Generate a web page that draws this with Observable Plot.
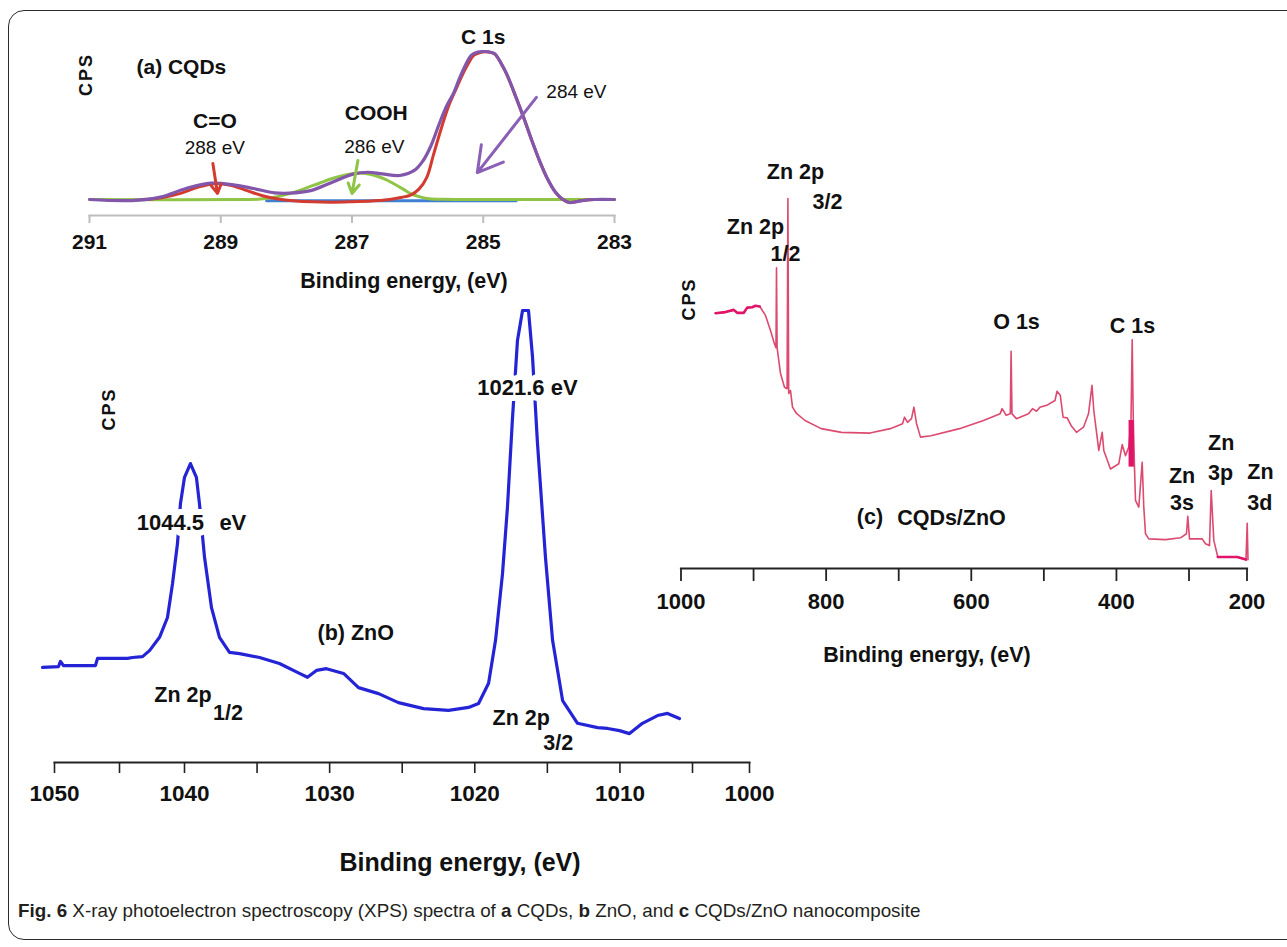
<!DOCTYPE html>
<html><head><meta charset="utf-8">
<script src="https://cdn.jsdelivr.net/npm/d3@7"></script>
<script src="https://cdn.jsdelivr.net/npm/@observablehq/plot@0.6"></script>
<style>
html,body{margin:0;padding:0;background:#fff;overflow:hidden;}
#page{position:relative;width:1287px;height:947px;overflow:hidden;background:#fff;}
#frame{position:absolute;left:8px;top:10px;width:1330px;height:930px;border:1.6px solid #2b2b2b;border-radius:16px;box-sizing:border-box;}
#caption{position:absolute;left:18px;top:900px;font-family:"Liberation Sans","Arial",sans-serif;font-size:19px;line-height:22px;color:#231f20;white-space:nowrap;transform-origin:0 50%;}
#caption b{font-weight:bold;}
</style></head><body>
<div id="page"><div id="frame"></div>
<div id="caption"><b>Fig. 6</b> X-ray photoelectron spectroscopy (XPS) spectra of <b>a</b> CQDs, <b>b</b> ZnO, and <b>c</b> CQDs/ZnO nanocomposite</div>
</div>
<script>
// ---------- Panel (a): CQDs C 1s ----------
const aEnvelopeEV  = [291.0, 290.36, 289.92, 289.53, 289.15, 288.83, 288.5, 288.18, 287.95, 287.63, 287.3, 286.97, 286.76, 286.54, 286.27, 286.04, 285.92, 285.8, 285.68, 285.56, 285.45, 285.37, 285.29, 285.18, 285.08, 285.0, 284.92, 284.83, 284.69, 284.6, 284.5, 284.38, 284.26, 284.14, 284.02, 283.9, 283.8, 283.69, 283.49, 283.31, 283.0];
const aEnvelopeCPS = [0, -0.7, 1.6, 7.4, 11.0, 10.1, 7.4, 4.5, 4.3, 6.0, 11.7, 17.3, 18.4, 17.3, 16.2, 20, 26, 36, 50, 63, 72, 81, 89, 97.5, 99.7, 100, 99.8, 98.6, 89, 80.4, 69, 55, 40, 26, 14, 5, 0.5, -2.0, -0.7, 0, 0];
const aRedEV  = [290.2, 289.9, 289.6, 289.35, 289.1, 288.85, 288.6, 288.35, 288.1, 287.9, 287.6, 287.3, 287.0, 286.7, 286.5, 286.3, 286.1, 285.98, 285.86, 285.76, 285.64, 285.52, 285.41, 285.33, 285.25, 285.14, 285.03, 284.92, 284.83, 284.69, 284.6, 284.5, 284.38, 284.26, 284.14, 284.02, 283.9, 283.8, 283.69, 283.49, 283.31];
const aRedCPS = [0, 1.2, 4.3, 8.3, 10.7, 9.6, 6.0, 2.4, 0.2, -0.8, -1.6, -1.8, -1.5, -1.0, -0.4, 1.0, 3.2, 7, 15, 30, 48, 64, 75, 83, 90, 97.5, 99.5, 99.6, 98.4, 88.8, 80.2, 68.8, 54.8, 39.8, 25.8, 13.8, 4.8, 0.4, -2.0, -0.7, 0];
const aGreenEV  = [291, 288.6, 288.39, 288.18, 287.95, 287.73, 287.5, 287.3, 287.1, 286.92, 286.75, 286.65, 286.5, 286.37, 286.22, 286.1, 285.95, 285.82, 285.6, 285.44, 283.0];
const aGreenCPS = [0, 0, 0.3, 1.6, 4.0, 7.2, 11, 14.2, 16.6, 17.8, 17.3, 16.2, 13.8, 10.8, 7, 3.8, 1.6, 0.5, 0.1, 0, 0];
const aBlueEV  = [288.3, 284.5];
const aBlueCPS = [-0.9, -0.9];
const aTicks = [291, 289, 287, 285, 283];
const aBoldLabels = [
  {text: "C 1s", ev: 285.0, cps: 109.5},
  {text: "(a) CQDs", ev: 289.6, cps: 89.2},
  {text: "C=O", ev: 289.09, cps: 52.7},
  {text: "COOH", ev: 286.63, cps: 58.1}
];
const aEnergyLabels = [
  {text: "288 eV", ev: 289.09, cps: 35.1},
  {text: "286 eV", ev: 286.66, cps: 35.8},
  {text: "284 eV", ev: 283.58, cps: 73.0}
];
const aArrowRed    = [{ev1: 289.12, cps1: 24.3, ev2: 289.05, cps2: 4.1}];
const aArrowGreen  = [{ev1: 286.91, cps1: 26.4, ev2: 287.0, cps2: 4.0}];
const aArrowPurple = [{ev1: 284.19, cps1: 69.0, ev2: 285.09, cps2: 18.2}];

// ---------- Panel (b): ZnO Zn 2p ----------
const bEV  = [1050.92, 1049.69, 1049.54, 1049.31, 1046.85, 1046.69, 1044.38, 1044.0, 1043.23, 1042.69, 1041.92, 1041.31, 1040.92, 1040.54, 1040.31, 1040.0, 1039.59, 1039.18, 1038.97, 1038.62, 1038.14, 1037.59, 1036.90, 1036.21, 1034.83, 1033.46, 1032.08, 1031.53, 1030.91, 1030.22, 1029.04, 1028.01, 1026.63, 1025.26, 1023.53, 1021.81, 1020.43, 1019.74, 1019.05, 1018.57, 1018.09, 1017.75, 1017.40, 1017.06, 1016.71, 1016.30, 1016.02, 1015.68, 1015.13, 1014.64, 1013.95, 1012.92, 1011.54, 1010.85, 1010.03, 1009.34, 1008.45, 1007.41, 1006.72, 1005.90];
const bCPS = [17.0, 17.2, 18.4, 17.4, 17.4, 19.1, 19.1, 19.3, 19.5, 20.9, 24.0, 28.6, 36.5, 45.8, 55.1, 61.2, 64.4, 61.2, 55.1, 42.6, 30.9, 24.0, 20.5, 20.2, 19.3, 17.9, 15.6, 14.7, 16.3, 16.7, 15.6, 12.3, 10.9, 8.8, 7.4, 7.0, 7.7, 8.6, 13.3, 23.3, 38.8, 54.2, 75.1, 93.0, 100, 100, 89.1, 69.1, 42.6, 23.3, 9.3, 4.0, 3.0, 2.8, 2.3, 1.6, 4.0, 5.8, 6.3, 5.1];
const bTicks = [1050, 1045, 1040, 1035, 1030, 1025, 1020, 1015, 1010, 1005, 1000];
const bPeakLabels = [
  {text: "1044.5", ev: 1041.08, cps: 50.5},
  {text: "eV", ev: 1036.67, cps: 50.5},
  {text: "1021.6 eV", ev: 1016.37, cps: 81.9}
];
const bBoldLabels = [
  {text: "(b) ZnO", ev: 1028.2, cps: 24.9},
  {text: "Zn 2p", ev: 1040.12, cps: 10.5},
  {text: "1/2", ev: 1037.0, cps: 6.3},
  {text: "Zn 2p", ev: 1016.80, cps: 5.3},
  {text: "3/2", ev: 1014.25, cps: -0.5}
];

// ---------- Panel (c): CQDs/ZnO survey ----------
const cEV  = [952.46, 938.68, 927.24, 922.56, 913.47, 908.78, 901.89, 897.34, 891.42, 883.56, 876.67, 871.16, 869.09, 868.40, 867.58, 862.89, 857.38, 853.8, 852.70, 851.59, 849.11, 846.36, 840.85, 829.13, 806.81, 778.83, 739.56, 711.59, 694.78, 692.02, 687.89, 682.38, 679.07, 675.49, 669.98, 655.51, 616.24, 583.17, 560.30, 557.54, 551.89, 546.24, 545.14, 543.9, 537.83, 521.16, 515.65, 510.14, 505.45, 495.95, 484.65, 481.89, 477.35, 473.49, 467.84, 462.33, 455.02, 445.38, 438.49, 433.67, 431.19, 424.30, 419.61, 417.41, 408.18, 396.74, 392.06, 387.51, 382.96, 379.93, 378.28, 376.76, 375.11, 373.73, 369.18, 364.50, 362.29, 359.95, 355.40, 332.4, 311.71, 303.5, 301.65, 299.14, 277.24, 271.55, 264.66, 261.72, 257.24, 250.34, 216.9, 201.72, 199.66, 198.28];
const cCPS = [69.0, 69.3, 69.9, 69.1, 69.1, 70.5, 70.6, 71.0, 70.8, 68.4, 64.3, 60.7, 59.7, 81.3, 59.7, 52.7, 49.0, 48.6, 100, 47.3, 48.1, 43.6, 41.9, 40.0, 37.8, 36.8, 36.6, 37.8, 39.1, 40.9, 39.5, 40.5, 43.6, 39.2, 35.5, 35.9, 37.8, 40.0, 41.8, 43.2, 41.4, 41.8, 58.7, 41.8, 40.5, 41.8, 43.2, 42.5, 43.6, 44.1, 45.4, 47.9, 46.8, 40.9, 40.7, 38.6, 36.8, 38.2, 41.8, 49.5, 42.7, 31.9, 36.8, 31.9, 26.9, 28.3, 33.5, 30.5, 32.8, 40.0, 61.8, 40.0, 27.4, 18.4, 16.6, 28.7, 16.6, 9.4, 8.0, 7.8, 8.3, 9.4, 14.1, 8.0, 8.0, 6.7, 6.2, 21.1, 7.6, 3.1, 3.1, 2.4, 12.2, 2.4];
const cBand = [{ev1: 382.6, ev2: 375.2, cps1: 27.4, cps2: 40.0}];
const cTicks = [1000, 900, 800, 700, 600, 500, 400, 300, 200];
const cBoldLabels = [
  {text: "Zn 2p", ev: 897.34, cps: 92.2},
  {text: "1/2", ev: 856.0, cps: 84.9},
  {text: "Zn 2p", ev: 842.2, cps: 107.0},
  {text: "3/2", ev: 798.1, cps: 98.9},
  {text: "O 1s", ev: 537.7, cps: 66.5},
  {text: "C 1s", ev: 377.8, cps: 65.4},
  {text: "(c)", ev: 739.6, cps: 13.8},
  {text: "CQDs/ZnO", ev: 627.3, cps: 13.5},
  {text: "Zn", ev: 309.6, cps: 24.9},
  {text: "3s", ev: 309.6, cps: 17.6},
  {text: "Zn", ev: 244.5, cps: 33.9},
  {text: "3p", ev: 245.7, cps: 25.8},
  {text: "Zn", ev: 176.7, cps: 26.0},
  {text: "3d", ev: 177.9, cps: 17.6}
];

const axisTitle = "Binding energy, (eV)";
const yTitle = "CPS";

// ---------- build ----------
const zip = (xs, ys) => xs.map((x, i) => ({ev: x, cps: ys[i]}));
const FONT = '"Liberation Sans", Arial, sans-serif';
const W = 1287, H = 947;
const page = document.getElementById("page");
function place(svg) {
  svg.style.position = "absolute";
  svg.style.left = "0px";
  svg.style.top = "0px";
  page.appendChild(svg);
  svg.querySelectorAll("text").forEach(t => { if (t.textContent === yTitle) t.style.letterSpacing = "2px"; });
}
const baseStyle = {background: "transparent", fontFamily: FONT, overflow: "visible"};
const ink = "#111";

// Panel (a)
place(Plot.plot({
  width: W, height: 300,
  marginLeft: 89, marginRight: W - 614, marginTop: 30, marginBottom: 85,
  style: baseStyle,
  x: {domain: [291, 283]},
  y: {domain: [0, 100], range: [199, 51], axis: null},
  marks: [
    Plot.frame({anchor: "bottom", stroke: "#bdbdbd", strokeWidth: 2}),
    Plot.axisX({ticks: aTicks, tickSize: 8, stroke: "#bdbdbd", strokeWidth: 2, fill: ink, fontSize: 21, fontWeight: "bold", tickPadding: 11, label: null}),
    Plot.line(zip(aBlueEV, aBlueCPS), {x: "ev", y: "cps", stroke: "#3f7fd1", strokeWidth: 3}),
    Plot.line(zip(aGreenEV, aGreenCPS), {x: "ev", y: "cps", stroke: "#8fc446", strokeWidth: 3, curve: "catmull-rom"}),
    Plot.line(zip(aRedEV, aRedCPS), {x: "ev", y: "cps", stroke: "#d33b30", strokeWidth: 3, curve: "catmull-rom"}),
    Plot.line(zip(aEnvelopeEV, aEnvelopeCPS), {x: "ev", y: "cps", stroke: "#8156ab", strokeWidth: 3.2, curve: "catmull-rom"}),
    Plot.arrow(aArrowRed, {x1: "ev1", y1: "cps1", x2: "ev2", y2: "cps2", stroke: "#d33b30", strokeWidth: 3, headLength: 12}),
    Plot.arrow(aArrowGreen, {x1: "ev1", y1: "cps1", x2: "ev2", y2: "cps2", stroke: "#8fc446", strokeWidth: 3, headLength: 12}),
    Plot.arrow(aArrowPurple, {x1: "ev1", y1: "cps1", x2: "ev2", y2: "cps2", stroke: "#8a5fb5", strokeWidth: 3, headLength: 14}),
    Plot.text(aBoldLabels, {x: "ev", y: "cps", text: "text", fontSize: 21, fontWeight: "bold", fill: ink}),
    Plot.text(aEnergyLabels, {x: "ev", y: "cps", text: "text", fontSize: 19, fill: ink}),
    Plot.text([yTitle], {frameAnchor: "left", rotate: -90, dx: -3, dy: -27, fontSize: 18, fontWeight: "bold", fill: ink}),
    Plot.text([axisTitle], {frameAnchor: "bottom", lineAnchor: "middle", dx: 52, dy: 66, fontSize: 21.5, fontWeight: "bold", fill: ink})
  ]
}));

// Panel (b)
place(Plot.plot({
  width: W, height: H,
  marginLeft: 54, marginRight: W - 749, marginTop: 300, marginBottom: H - 762,
  style: baseStyle,
  x: {type: "linear", domain: [1050, 1040, 1005, 1000], range: [54, 184, 692, 749]},
  y: {domain: [0, 100], range: [740, 310], axis: null},
  marks: [
    Plot.frame({anchor: "bottom", stroke: "#222", strokeWidth: 2}),
    Plot.axisX({ticks: bTicks, tickSize: 11, stroke: "#222", strokeWidth: 1.6, fill: ink, fontSize: 22.5, fontWeight: "bold", tickPadding: 12, tickFormat: d => d % 10 === 0 ? String(d) : "", label: null}),
    Plot.line(zip(bEV, bCPS), {x: "ev", y: "cps", stroke: "#2424d6", strokeWidth: 3.2}),
    Plot.text(bPeakLabels, {x: "ev", y: "cps", text: "text", fontSize: 22, fontWeight: "bold", fill: ink, stroke: "white", strokeWidth: 12, paintOrder: "stroke"}),
    Plot.text(bBoldLabels, {x: "ev", y: "cps", text: "text", fontSize: 21.5, fontWeight: "bold", fill: ink}),
    Plot.text([yTitle], {frameAnchor: "left", rotate: -90, dx: 55, dy: -101, fontSize: 18, fontWeight: "bold", fill: ink}),
    Plot.text([axisTitle], {frameAnchor: "bottom", lineAnchor: "middle", dx: 58, dy: 100, fontSize: 25, fontWeight: "bold", fill: ink})
  ]
}));

// Panel (c)
const cData = zip(cEV, cCPS);
place(Plot.plot({
  width: W, height: H,
  marginLeft: 680.5, marginRight: W - 1246.5, marginTop: 180, marginBottom: H - 568,
  style: baseStyle,
  x: {type: "linear", domain: [1000, 300, 200], range: [680.5, 1188.5, 1246.5]},
  y: {domain: [0, 100], range: [568, 198], axis: null},
  marks: [
    Plot.frame({anchor: "bottom", stroke: "#222", strokeWidth: 2.2}),
    Plot.axisX({ticks: cTicks, tickSize: 13, stroke: "#222", strokeWidth: 1.8, fill: ink, fontSize: 22, fontWeight: "bold", tickPadding: 12, tickFormat: d => d % 200 === 0 ? String(d) : "", label: null}),
    Plot.line(cData, {x: "ev", y: "cps", stroke: "#dc4a70", strokeWidth: 1.6}),
    Plot.line(cData.filter(d => d.ev >= 885), {x: "ev", y: "cps", stroke: "#e0156a", strokeWidth: 2.6}),
    Plot.line(cData.filter(d => d.ev <= 250.5 && d.ev >= 201), {x: "ev", y: "cps", stroke: "#e0156a", strokeWidth: 2.6}),
    Plot.rect(cBand, {x1: "ev1", x2: "ev2", y1: "cps1", y2: "cps2", fill: "#e0156a"}),
    Plot.text(cBoldLabels, {x: "ev", y: "cps", text: "text", fontSize: 21.5, fontWeight: "bold", fill: ink}),
    Plot.text([yTitle], {frameAnchor: "left", rotate: -90, dx: 8, dy: -54, fontSize: 18, fontWeight: "bold", fill: ink}),
    Plot.text([axisTitle], {frameAnchor: "bottom", lineAnchor: "middle", dx: -37, dy: 87, fontSize: 21.5, fontWeight: "bold", fill: ink})
  ]
}));

// fit caption width to the reference line length
const cap = document.getElementById("caption");
cap.style.transform = "scaleX(" + (902 / cap.offsetWidth) + ")";
</script>
</body></html>
